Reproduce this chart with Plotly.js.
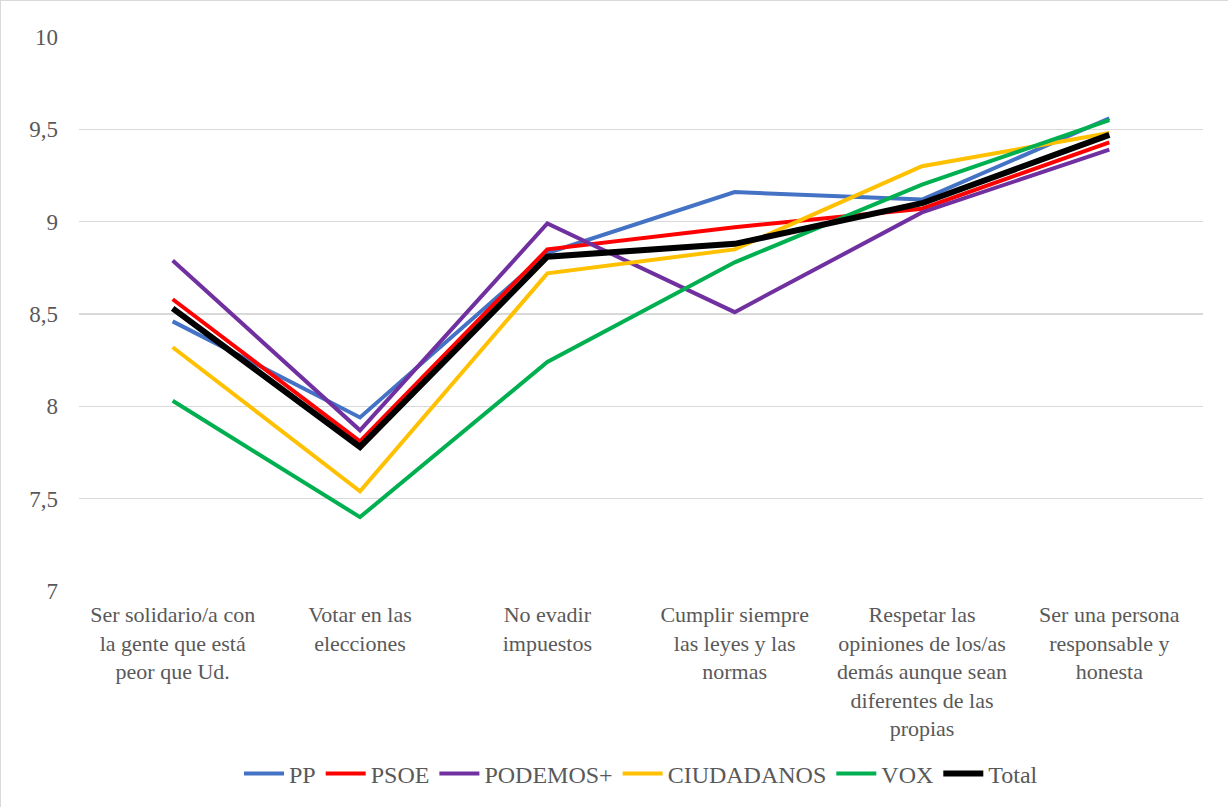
<!DOCTYPE html>
<html>
<head>
<meta charset="utf-8">
<script src="https://cdn.plot.ly/plotly-3.0.1.min.js"></script>
<style>
html,body{margin:0;padding:0;background:#fff;}
#chart{width:1228px;height:807px;box-sizing:border-box;border:1px solid #d9d9d9;}
</style>
</head>
<body>
<div id="chart"></div>
<script>
const categories = [
  "Ser solidario/a con<br>la gente que está<br>peor que Ud.",
  "Votar en las<br>elecciones",
  "No evadir<br>impuestos",
  "Cumplir siempre<br>las leyes y las<br>normas",
  "Respetar las<br>opiniones de los/as<br>demás aunque sean<br>diferentes de las<br>propias",
  "Ser una persona<br>responsable y<br>honesta"
];
const seriesNames = ["PP", "PSOE", "PODEMOS+", "CIUDADANOS", "VOX", "Total"];
const PP = [8.46, 7.94, 8.83, 9.16, 9.12, 9.56];
const PSOE = [8.58, 7.81, 8.85, 8.97, 9.07, 9.43];
const PODEMOS = [8.79, 7.87, 8.99, 8.51, 9.05, 9.39];
const CIUDADANOS = [8.32, 7.54, 8.72, 8.85, 9.30, 9.48];
const VOX = [8.03, 7.40, 8.24, 8.78, 9.20, 9.55];
const Total = [8.53, 7.78, 8.81, 8.88, 9.10, 9.47];
const yTickVals = [7, 7.5, 8, 8.5, 9, 9.5, 10];
const yTickText = ["7", "7,5", "8", "8,5", "9", "9,5", "10"];

const seriesValues = [PP, PSOE, PODEMOS, CIUDADANOS, VOX, Total];
const colors = ["#4472C4", "#FF0000", "#7030A0", "#FFC000", "#00B050", "#000000"];
const widths = [4, 4, 4, 4, 4, 6];

const traces = seriesNames.map((n, i) => ({
  x: categories,
  y: seriesValues[i],
  name: n,
  type: "scatter",
  mode: "lines",
  line: {color: colors[i], width: widths[i]}
}));

const fam = "'Liberation Serif', 'Times New Roman', serif";
const font = {family: fam, size: 22, color: "#595959"};

const layout = {
  width: 1228, height: 807,
  margin: {l: 78, r: 26, t: 36, b: 217},
  paper_bgcolor: "#fff", plot_bgcolor: "#fff",
  font: font,
  showlegend: true,
  legend: {orientation: "h", x: 0.5, xanchor: "center", y: -0.33, yanchor: "middle",
           font: {family: fam, size: 24, color: "#595959"}, itemwidth: 40},
  xaxis: {
    type: "category", range: [-0.5, 5.5],
    showgrid: false, zeroline: false, showline: false,
    ticks: "", tickfont: {family: fam, size: 22, color: "#595959"},
    ticklabelstandoff: 8, automargin: false
  },
  yaxis: {
    range: [7, 10],
    tickvals: yTickVals, ticktext: yTickText,
    showgrid: true, gridcolor: "#d9d9d9", gridwidth: 1.5,
    zeroline: false, showline: false, ticks: "",
    tickfont: {family: fam, size: 23, color: "#595959"}, ticklabelstandoff: 20, automargin: false
  }
};

Plotly.newPlot("chart", traces, layout, {displayModeBar: false, staticPlot: true});
</script>
</body>
</html>
